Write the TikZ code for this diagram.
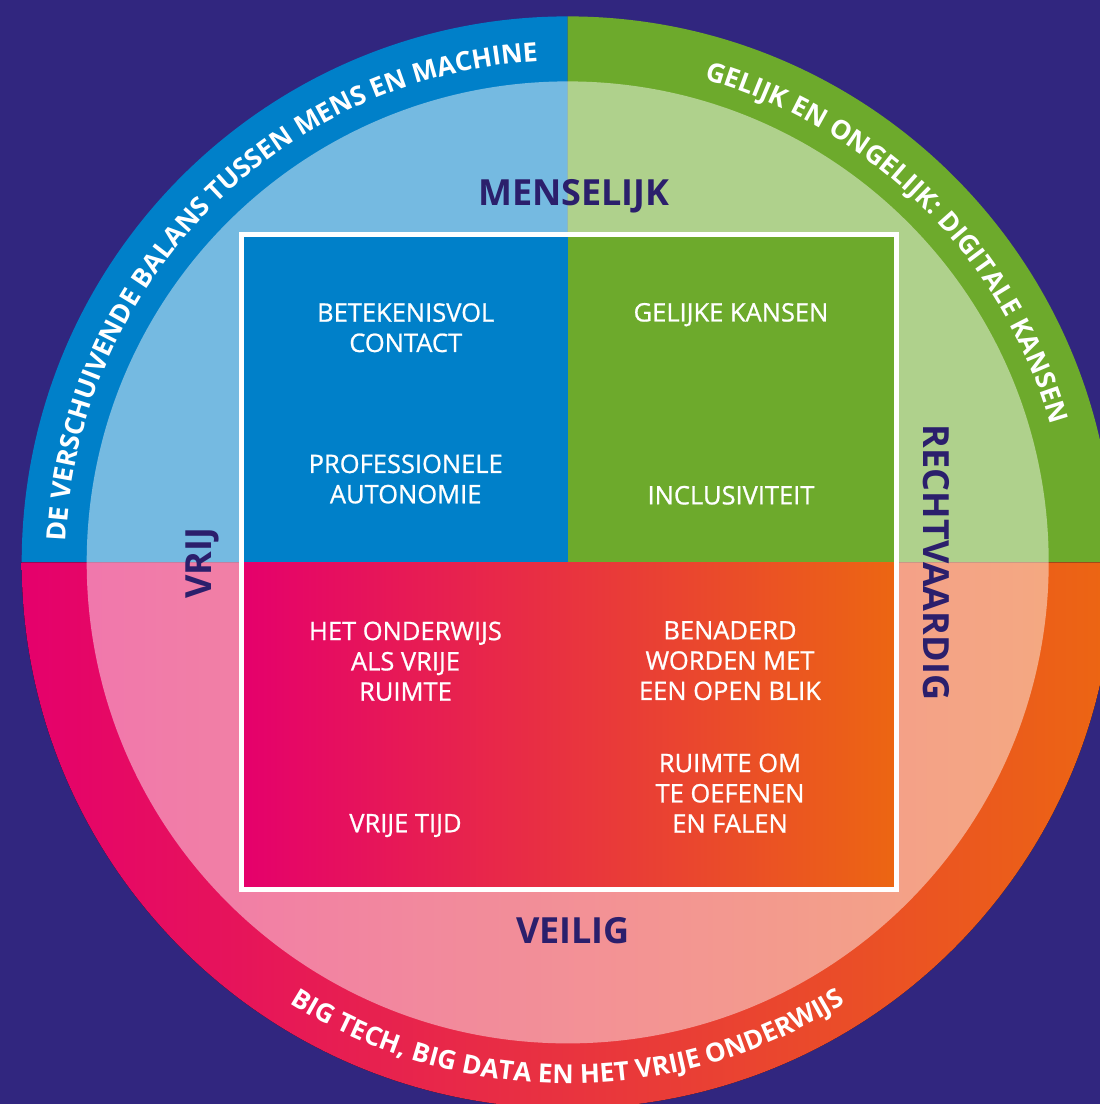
\documentclass[tikz,border=0pt]{standalone}
\usepackage{fontspec}
\setmainfont{Open Sans}
\newfontfamily\quadfont{Open Sans}[FakeBold=0.8]
\usetikzlibrary{decorations.text}
\definecolor{bgpurple}{HTML}{31267F}
\definecolor{blueC}{HTML}{0080C9}
\definecolor{greenC}{HTML}{6DAA2C}
\definecolor{magC}{HTML}{E5006C}
\definecolor{orC}{HTML}{EC6612}
\definecolor{labelpurple}{HTML}{2B1F6C}
\newcommand\ringfont{\bfseries\fontsize{26.5}{30}\selectfont}
\newcommand\ringfontb{\bfseries\fontsize{26.2}{30}\selectfont}
\begin{document}
\begin{tikzpicture}[x=1pt,y=1pt,
  quadtext/.style={text=white, align=center, font=\quadfont\fontsize{25.5}{30.3}\selectfont, anchor=base, inner sep=0pt},
  axislabel/.style={text=labelpurple, font=\bfseries\fontsize{36}{40}\selectfont, anchor=base, inner sep=0pt},
  ringtext/.style={decorate, decoration={text along path, text color=white, text align=center, text={|\ringfont|#1}}},
  ringtextb/.style={decorate, decoration={text along path, text color=white, text align=center, text={|\ringfontb|#1}}}
]
\useasboundingbox (0,0) rectangle (1100,1104);
\fill[bgpurple] (0,0) rectangle (1100,1104);
\coordinate (c) at (567.7,541.6);
% outer disc
\fill[blueC] (c) -- ++(180:546) arc[start angle=180,end angle=90,radius=546] -- cycle;
\fill[greenC] (c) -- ++(90:546) arc[start angle=90,end angle=0,radius=546] -- cycle;
\fill[left color=magC,right color=orC] (c) ++(-546,0) arc[start angle=180,end angle=360,radius=546] -- cycle;
% light inner disc
\fill[white, opacity=0.46] (c) circle[radius=481];
% square
\fill[blueC] (241.5,541.7) rectangle (567.7,869.8);
\fill[greenC] (567.7,541.7) rectangle (896,869.8);
\fill[left color=magC,right color=orC] (241.5,214.5) rectangle (896,541.7);
\draw[white, line width=5] (241.5,214.5) rectangle (896,869.8);
% ring texts
\path[ringtext={DE VERSCHUIVENDE BALANS TUSSEN MENS EN MACHINE}] (c) ++(195.5:502) arc[start angle=195.5,end angle=75.5,radius=502];
\path[ringtext={GELIJK EN ONGELIJK: DIGITALE KANSEN}] (c) ++(105.1:502) arc[start angle=105.1,end angle=-14.9,radius=502];
\path[ringtextb={BIG TECH, BIG DATA EN HET VRIJE ONDERWIJS}] (c) ++(-150:521) arc[start angle=-150,end angle=-30,radius=521];
% axis labels
\node[axislabel] (menselijk) at (574,898) {MENSELIJK};
\node[axislabel] (veilig) at (573,160) {VEILIG};
\node[axislabel, rotate=90] (vrij) at (211.5,541) {VRIJ};
\node[axislabel, rotate=-90] (recht) at (923,541.5) {RECHTVAARDIG};
% quadrant texts (base = baseline of last line)
\node[quadtext] (t1) at (405.7,752) {BETEKENISVOL\\CONTACT};
\node[quadtext] (t2) at (405.7,600.7) {PROFESSIONELE\\AUTONOMIE};
\node[quadtext] (t3) at (731,782.5) {GELIJKE KANSEN};
\node[quadtext] (t4) at (731,599.6) {INCLUSIVITEIT};
\node[quadtext] (t5) at (405.5,403.3) {HET ONDERWIJS\\ALS VRIJE\\RUIMTE};
\node[quadtext] (t6) at (405.5,271.7) {VRIJE TIJD};
\node[quadtext] (t7) at (730,404) {BENADERD\\WORDEN MET\\EEN OPEN BLIK};
\node[quadtext] (t8) at (730,271.3) {RUIMTE OM\\TE OEFENEN\\EN FALEN};
\end{tikzpicture}
\end{document}
